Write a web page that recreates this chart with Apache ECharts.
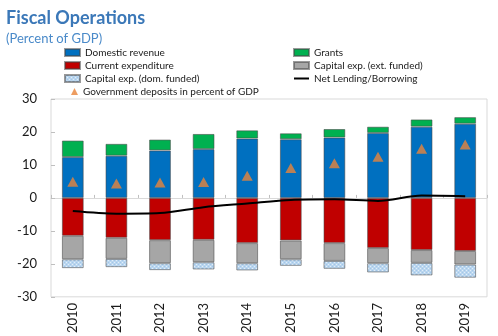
<!DOCTYPE html>
<html>
<head>
<meta charset="utf-8">
<script src="https://cdn.jsdelivr.net/npm/echarts@6/dist/echarts.min.js"></script>
<style>
  html, body { margin: 0; padding: 0; background: #fff; }
  #chart { width: 498px; height: 336px; }
</style>
</head>
<body>
<div id="chart"></div>
<script>
// Fiscal operations, percent of GDP
const years = ['2010', '2011', '2012', '2013', '2014', '2015', '2016', '2017', '2018', '2019'];
const domesticRevenue = [12.4, 12.8, 14.4, 14.8, 18.0, 17.8, 18.3, 19.7, 21.6, 22.5];
const grants = [5.0, 3.6, 3.3, 4.6, 2.5, 1.8, 2.6, 1.9, 2.2, 2.0];
const currentExpenditure = [-11.5, -12.1, -12.8, -12.7, -13.7, -12.9, -13.7, -15.2, -15.8, -16.1];
const capExtFunded = [-7.1, -6.4, -7.0, -6.8, -6.1, -5.7, -5.4, -4.6, -3.9, -4.1];
const capDomFunded = [-2.7, -2.5, -2.1, -2.2, -2.2, -2.0, -2.4, -2.8, -3.8, -4.0];
const netLending = [-4.0, -4.8, -4.6, -2.8, -1.7, -0.6, -0.4, -0.9, 0.7, 0.5];
const govDeposits = [4.9, 4.4, 4.7, 4.8, 6.7, 9.1, 10.5, 12.5, 14.9, 16.2];
const yTicks = [-30, -20, -10, 0, 10, 20, 30];

const FONT = 'Lato, "Open Sans", sans-serif';

// stippled light-blue fill for domestically funded capital spending
function stipple() {
  const c = document.createElement('canvas');
  c.width = 4; c.height = 4;
  const g = c.getContext('2d');
  g.fillStyle = '#bad6ef';
  g.fillRect(0, 0, 4, 4);
  g.fillStyle = '#e2eef9';
  g.fillRect(0, 0, 1, 1);
  g.fillRect(2, 2, 1, 1);
  g.fillStyle = '#a3c6e8';
  g.fillRect(2, 0, 1, 1);
  g.fillRect(0, 2, 1, 1);
  return c;
}

const border = { borderColor: 'rgba(70,70,70,0.55)', borderWidth: 1 };
function barSeries(name, data, color) {
  return {
    name, type: 'bar', stack: 'total', data,
    barWidth: '50%',
    itemStyle: Object.assign({ color }, border),
    emphasis: { disabled: true }
  };
}

const chart = echarts.init(document.getElementById('chart'), null, { renderer: 'canvas' });

const legendText = { fontFamily: FONT, fontSize: 10, color: '#1a1a1a', lineHeight: 13 };
const legendBase = {
  orient: 'vertical', padding: 0, itemGap: 0, itemWidth: 15, itemHeight: 7,
  icon: 'rect', textStyle: legendText, selectedMode: false
};
const LEG_TOP = 46;

chart.setOption({
  animation: false,
  title: [
    { text: 'Fiscal Operations', left: 1, top: 4,
      textStyle: { fontFamily: FONT, fontSize: 18, fontWeight: 'bold', color: '#3b78b8' } },
    { text: '(Percent of GDP)', left: 1, top: 27,
      textStyle: { fontFamily: FONT, fontSize: 13, fontWeight: 'normal', color: '#4a8ac9' } }
  ],
  legend: [
    Object.assign({}, legendBase, { left: 64, top: LEG_TOP,
      data: ['Domestic revenue', 'Current expenditure', 'Capital exp. (dom. funded)'] }),
    Object.assign({}, legendBase, { left: 71, top: LEG_TOP + 39, itemWidth: 7, itemHeight: 7,
      icon: 'triangle', data: ['Government deposits in percent of GDP'] }),
    Object.assign({}, legendBase, { left: 293, top: LEG_TOP,
      data: ['Grants', 'Capital exp. (ext. funded)',
        { name: 'Net Lending/Borrowing', icon: 'path://M0,0h15v2h-15z', itemStyle: { color: '#000', borderWidth: 0 } }] })
  ],
  grid: { left: 51, right: 11, top: 99, bottom: 38, show: true, borderColor: '#d9d9d9', borderWidth: 1 },
  xAxis: [
    { type: 'category', data: years, position: 'bottom',
      axisLine: { show: false, onZero: false }, axisTick: { show: false },
      axisLabel: { rotate: 90, margin: 6, fontFamily: FONT, fontSize: 13, color: '#1a1a1a' } },
    { type: 'category', data: years, position: 'bottom',
      axisLine: { show: true, onZero: true, lineStyle: { color: '#d9d9d9', width: 1 } },
      axisTick: { show: true, inside: true, length: 3, lineStyle: { color: '#bfbfbf' } },
      axisLabel: { show: false } }
  ],
  yAxis: {
    type: 'value', min: yTicks[0], max: yTicks[yTicks.length - 1], interval: 10,
    axisLine: { show: false },
    axisTick: { show: true, inside: true, length: 4, lineStyle: { color: '#bfbfbf' } },
    splitLine: { show: false },
    axisLabel: { margin: 14, fontFamily: FONT, fontSize: 13, color: '#1a1a1a' }
  },
  series: [
    barSeries('Domestic revenue', domesticRevenue, '#0070c0'),
    barSeries('Grants', grants, '#00b050'),
    barSeries('Current expenditure', currentExpenditure, '#c00000'),
    barSeries('Capital exp. (ext. funded)', capExtFunded, '#a6a6a6'),
    barSeries('Capital exp. (dom. funded)', capDomFunded, { image: stipple(), repeat: 'repeat' }),
    { name: 'Net Lending/Borrowing', type: 'line', data: netLending, smooth: 0.3,
      symbol: 'none', lineStyle: { color: '#000', width: 2 }, itemStyle: { color: '#000' },
      z: 5 },
    { name: 'Government deposits in percent of GDP', type: 'scatter', data: govDeposits,
      symbol: 'triangle', symbolSize: [11, 10], itemStyle: { color: '#e8843a' }, z: 6 }
  ]
});
</script>
</body>
</html>
